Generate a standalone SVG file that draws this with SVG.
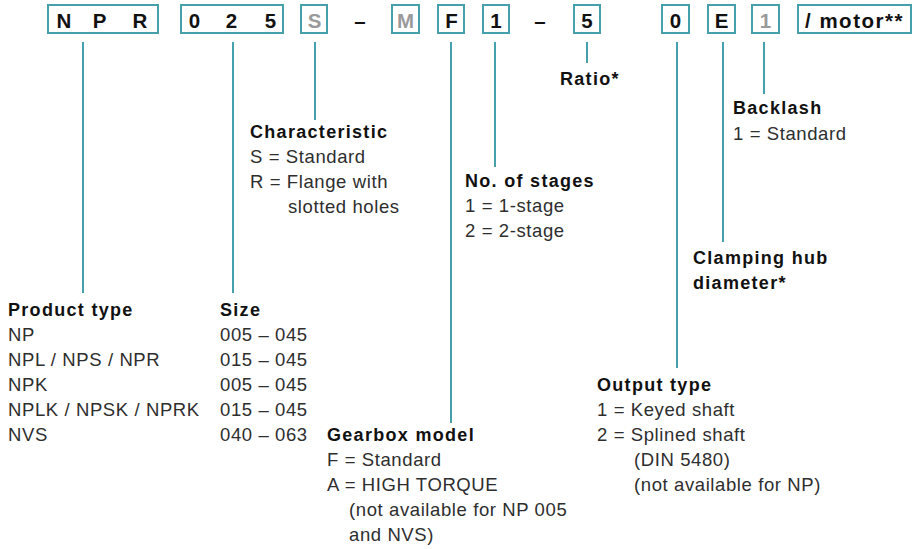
<svg xmlns="http://www.w3.org/2000/svg" width="913" height="549" viewBox="0 0 913 549">
<style>
text{font-family:"Liberation Sans",Arial,Helvetica,sans-serif}
.box{fill:#fff;stroke:#45a0ab;stroke-width:2}
.code{font-size:20.5px;font-weight:bold;fill:#111;text-anchor:middle}
.gray{fill:#9a9a9a}
.h{font-size:18px;font-weight:bold;fill:#111;letter-spacing:1.3px}
.t{font-size:18.5px;fill:#2e2e2e;letter-spacing:0.6px}
.con line{stroke:#45a0ab;stroke-width:2}
</style>
<rect width="913" height="549" fill="#fff"/>
<g id="code">
  <g id="box-npr"><rect class="box" x="48" y="5" width="110" height="28"/><text class="code" x="64" y="27.5">N</text><text class="code" x="99.5" y="27.5">P</text><text class="code" x="140" y="27.5">R</text></g>
  <g id="box-size"><rect class="box" x="181" y="5" width="102" height="28"/><text class="code" x="194.5" y="27.5">0</text><text class="code" x="231.5" y="27.5">2</text><text class="code" x="270.5" y="27.5">5</text></g>
  <g id="box-s"><rect class="box" x="301" y="5" width="26" height="28"/><text class="code gray" x="314.5" y="27.5">S</text></g>
  <text class="code" x="360" y="27.5">–</text>
  <g id="box-m"><rect class="box" x="392" y="5" width="27" height="28"/><text class="code gray" x="405.5" y="27.5">M</text></g>
  <g id="box-f"><rect class="box" x="438" y="5" width="26" height="28"/><text class="code" x="451.5" y="27.5">F</text></g>
  <g id="box-1"><rect class="box" x="483" y="5" width="26" height="28"/><text class="code" x="496" y="27.5">1</text></g>
  <text class="code" x="540" y="27.5">–</text>
  <g id="box-5"><rect class="box" x="574" y="5" width="26" height="28"/><text class="code" x="587" y="27.5">5</text></g>
  <g id="box-0"><rect class="box" x="662" y="5" width="27" height="28"/><text class="code" x="675.5" y="27.5">0</text></g>
  <g id="box-e"><rect class="box" x="708" y="5" width="27" height="28"/><text class="code" x="721.5" y="27.5">E</text></g>
  <g id="box-1b"><rect class="box" x="752" y="5" width="27" height="28"/><text class="code gray" x="765.5" y="27.5">1</text></g>
  <g id="box-motor"><rect class="box" x="798" y="5" width="113" height="28"/><text class="code" x="805" y="27.5" style="text-anchor:start;letter-spacing:1.5px">/ motor**</text></g>
</g>
<g class="con" id="connectors">
  <line x1="83" y1="42" x2="83" y2="293"/>
  <line x1="233" y1="42" x2="233" y2="293"/>
  <line x1="315" y1="42" x2="315" y2="120"/>
  <line x1="451" y1="42" x2="451" y2="423"/>
  <line x1="495" y1="42" x2="495" y2="167"/>
  <line x1="587" y1="42" x2="587" y2="63"/>
  <line x1="677" y1="42" x2="677" y2="368"/>
  <line x1="723" y1="42" x2="723" y2="242"/>
  <line x1="764" y1="42" x2="764" y2="94"/>
</g>
<g id="product-type">
  <text class="h" x="8" y="316">Product type</text>
  <text class="t" x="8" y="341">NP</text>
  <text class="t" x="8" y="366">NPL / NPS / NPR</text>
  <text class="t" x="8" y="391">NPK</text>
  <text class="t" x="8" y="416">NPLK / NPSK / NPRK</text>
  <text class="t" x="8" y="441">NVS</text>
</g>
<g id="size">
  <text class="h" x="220" y="316">Size</text>
  <text class="t" x="220" y="341">005 – 045</text>
  <text class="t" x="220" y="366">015 – 045</text>
  <text class="t" x="220" y="391">005 – 045</text>
  <text class="t" x="220" y="416">015 – 045</text>
  <text class="t" x="220" y="441">040 – 063</text>
</g>
<g id="characteristic">
  <text class="h" x="250" y="138">Characteristic</text>
  <text class="t" x="250" y="163">S = Standard</text>
  <text class="t" x="250" y="188">R = Flange with</text>
  <text class="t" x="288" y="213">slotted holes</text>
</g>
<g id="gearbox-model">
  <text class="h" x="327" y="441">Gearbox model</text>
  <text class="t" x="327" y="466">F = Standard</text>
  <text class="t" x="327" y="491">A = HIGH TORQUE</text>
  <text class="t" x="349" y="516">(not available for NP 005</text>
  <text class="t" x="349" y="541">and NVS)</text>
</g>
<g id="stages">
  <text class="h" x="465" y="187">No. of stages</text>
  <text class="t" x="465" y="212">1 = 1-stage</text>
  <text class="t" x="465" y="237">2 = 2-stage</text>
</g>
<g id="ratio">
  <text class="h" x="560" y="85">Ratio*</text>
</g>
<g id="output-type">
  <text class="h" x="597" y="391">Output type</text>
  <text class="t" x="597" y="416">1 = Keyed shaft</text>
  <text class="t" x="597" y="441">2 = Splined shaft</text>
  <text class="t" x="634" y="466">(DIN 5480)</text>
  <text class="t" x="634" y="491">(not available for NP)</text>
</g>
<g id="clamping-hub">
  <text class="h" x="693" y="264">Clamping hub</text>
  <text class="h" x="693" y="289">diameter*</text>
</g>
<g id="backlash">
  <text class="h" x="733" y="114">Backlash</text>
  <text class="t" x="733" y="140">1 = Standard</text>
</g>
</svg>
